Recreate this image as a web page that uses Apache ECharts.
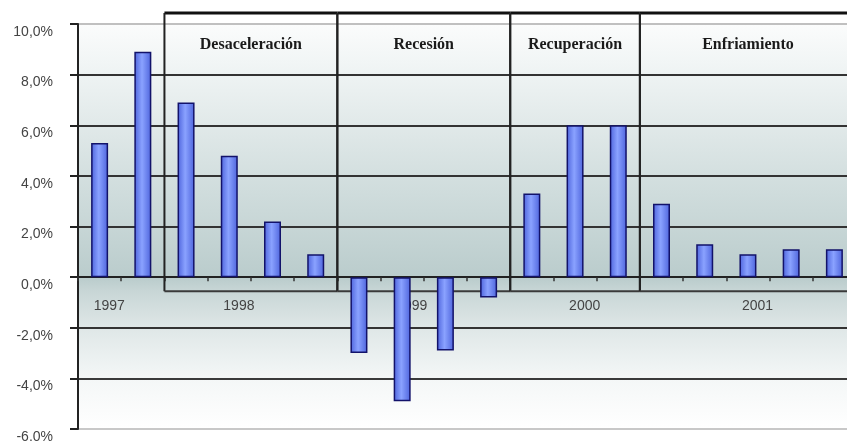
<!DOCTYPE html>
<html>
<head>
<meta charset="utf-8">
<script src="https://cdn.jsdelivr.net/npm/echarts@6/dist/echarts.min.js"></script>
<style>
  html, body { margin: 0; padding: 0; background: #ffffff; }
  #chart { width: 847px; height: 441px; }
</style>
</head>
<body>
<div id="chart"></div>
<script>
// Quarterly growth rate, 1997 III – 2001 IV
const categories = [
  '1997 III', '1997 IV',
  '1998 I', '1998 II', '1998 III', '1998 IV',
  '1999 I', '1999 II', '1999 III', '1999 IV',
  '2000 I', '2000 II', '2000 III', '2000 IV',
  '2001 I', '2001 II', '2001 III', '2001 IV'
];
const growth = [
  5.3, 8.9,
  6.9, 4.8, 2.2, 0.9,
  -3.0, -4.9, -2.9, -0.8,
  3.3, 6.0, 6.0, 2.9,
  1.3, 0.9, 1.1, 1.1
];
const yearLabels = ['1997', '1998', '1999', '2000', '2001'];

// Cycle phases and the quarters they span
const phaseNames = ['Desaceleración', 'Recesión', 'Recuperación', 'Enfriamiento'];
const phaseStart = ['1998 I', '1999 I', '2000 I', '2000 IV'];
const phaseEnd = ['1998 IV', '1999 IV', '2000 III', '2001 IV'];

// Value axis ticks
const yMin = -6, yMax = 10, yStep = 2;

const phaseData = phaseNames.map((n, i) => [categories.indexOf(phaseStart[i]), categories.indexOf(phaseEnd[i])]);
const yearData = yearLabels.map(y => {
  const idx = categories.map((c, i) => c.startsWith(y) ? i : -1).filter(i => i >= 0);
  return [idx[0], idx[idx.length - 1]];
});

const chart = echarts.init(document.getElementById('chart'), null, { renderer: 'canvas' });

const gridLineColors = ['#c8c8c8', '#3a3a3a', '#333333', '#222222', '#333333', '#333333', '#333333', '#333333', '#c0c0c0'];

chart.setOption({
  animation: false,
  backgroundColor: '#ffffff',
  grid: {
    left: 78, top: 24, width: 778, height: 405,
    outerBoundsMode: 'none',
    containLabel: false,
    show: true, borderWidth: 0,
    backgroundColor: new echarts.graphic.LinearGradient(0, 0, 0, 1, [
      { offset: 0, color: '#fbfcfc' },
      { offset: 0.126, color: '#eef3f3' },
      { offset: 0.25, color: '#e1e9e9' },
      { offset: 0.378, color: '#d3dfdf' },
      { offset: 0.5, color: '#c7d6d6' },
      { offset: 0.627, color: '#bacccc' },
      { offset: 0.66, color: '#c8d6d6' },
      { offset: 0.75, color: '#dfe7e7' },
      { offset: 0.876, color: '#f4f7f7' },
      { offset: 1, color: '#ffffff' }
    ])
  },
  xAxis: {
    type: 'category',
    data: categories,
    boundaryGap: true,
    axisLine: { onZero: true, lineStyle: { color: '#222', width: 2 } },
    axisTick: { show: true, interval: 0, length: 4, lineStyle: { color: '#333', width: 1.5 } },
    axisLabel: { show: false },
    splitLine: { show: false }
  },
  yAxis: {
    type: 'value',
    min: yMin, max: yMax, interval: yStep,
    axisLine: { show: true, lineStyle: { color: '#222', width: 2 } },
    axisTick: { show: true, length: 8, lineStyle: { color: '#222', width: 2 } },
    axisLabel: {
      margin: 25,
      fontFamily: 'Liberation Sans, Arial, sans-serif',
      fontSize: 14,
      color: '#444',
      verticalAlign: 'top',
      lineHeight: 16,
      formatter: v => v.toFixed(1).replace('.', ',') + '%'
    },
    splitLine: { show: true, lineStyle: { color: gridLineColors, width: 2 } }
  },
  series: [
    {
      name: 'Fases',
      type: 'custom',
      z: 1,
      clip: false,
      data: phaseData,
      encode: { x: [0, 1] },
      renderItem: (params, api) => {
        const s = api.value(0), e = api.value(1);
        const bw = api.size([1, 0])[0];
        const x0 = api.coord([s, 0])[0] - bw / 2;
        const x1 = api.coord([e, 0])[0] + bw / 2;
        const yTop = api.coord([s, yMax])[1] - 11;
        const yBot = api.coord([s, 0])[1] + 14;
        const stroke = { stroke: '#222', lineWidth: 2 };
        return {
          type: 'group',
          children: [
            { type: 'line', shape: { x1: x0, y1: yTop, x2: x1, y2: yTop }, style: { stroke: '#111', lineWidth: 3 } },
            { type: 'line', shape: { x1: x0, y1: yTop, x2: x0, y2: yBot }, style: stroke },
            { type: 'line', shape: { x1: x1, y1: yTop, x2: x1, y2: yBot }, style: stroke },
            { type: 'line', shape: { x1: x0, y1: yBot, x2: x1, y2: yBot }, style: { stroke: '#3a3a3a', lineWidth: 2 } },
            {
              type: 'text',
              style: {
                x: (x0 + x1) / 2, y: yTop + 32,
                text: phaseNames[params.dataIndex],
                fontFamily: 'Liberation Serif, Times New Roman, serif',
                fontWeight: 'bold', fontSize: 16,
                fill: '#1a1a1a', align: 'center', verticalAlign: 'middle'
              }
            }
          ]
        };
      }
    },
    {
      name: 'Años',
      type: 'custom',
      z: 1,
      clip: false,
      data: yearData,
      encode: { x: [0, 1] },
      renderItem: (params, api) => {
        const a = api.coord([api.value(0), 0]);
        const b = api.coord([api.value(1), 0]);
        return {
          type: 'text',
          style: {
            x: (a[0] + b[0]) / 2 - 12, y: a[1] + 29,
            text: yearLabels[params.dataIndex],
            fontFamily: 'Liberation Sans, Arial, sans-serif',
            fontSize: 14, fill: '#444',
            align: 'center', verticalAlign: 'middle'
          }
        };
      }
    },
    {
      name: 'Crecimiento',
      type: 'bar',
      z: 3,
      barWidth: 17,
      data: growth,
      itemStyle: {
        color: new echarts.graphic.LinearGradient(0, 0, 1, 0, [
          { offset: 0, color: '#4d63dc' },
          { offset: 0.45, color: '#8aa2ff' },
          { offset: 1, color: '#4d63dc' }
        ]),
        borderColor: '#12126a',
        borderWidth: 1.5
      }
    }
  ]
});
</script>
</body>
</html>
